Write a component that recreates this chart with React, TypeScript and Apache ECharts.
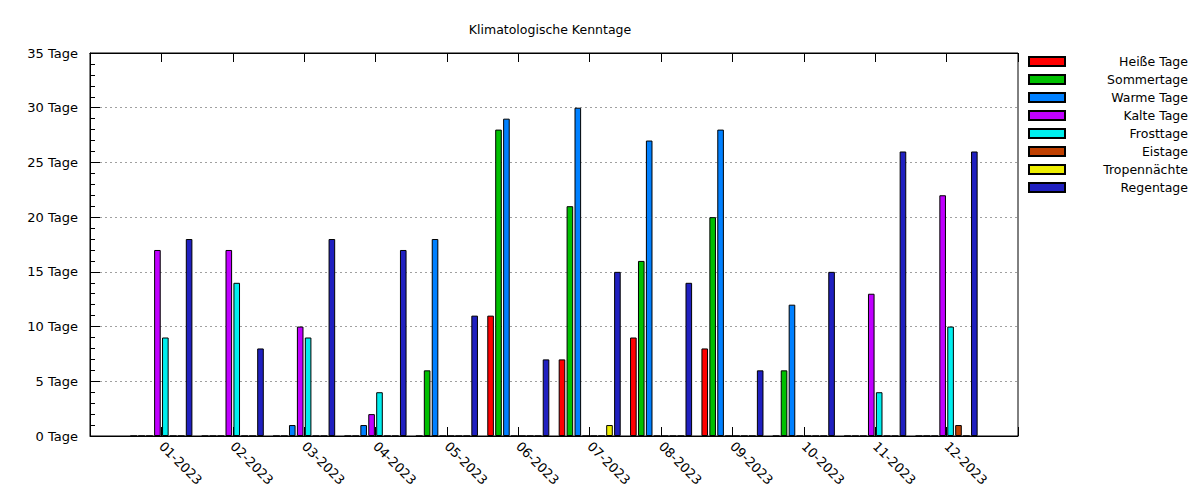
import React, { useEffect, useRef } from "react";
import * as echarts from "echarts";

const months = ["01-2023", "02-2023", "03-2023", "04-2023", "05-2023", "06-2023", "07-2023", "08-2023", "09-2023", "10-2023", "11-2023", "12-2023"];
const categories = ["", ...months, ""];

const heisseTage = [0, 0, 0, 0, 0, 11, 7, 9, 8, 0, 0, 0];
const sommertage = [0, 0, 0, 0, 6, 28, 21, 16, 20, 6, 0, 0];
const warmeTage = [0, 0, 1, 1, 18, 29, 30, 27, 28, 12, 0, 0];
const kalteTage = [17, 17, 10, 2, 0, 0, 0, 0, 0, 0, 13, 22];
const frosttage = [9, 14, 9, 4, 0, 0, 0, 0, 0, 0, 4, 10];
const eistage = [0, 0, 0, 0, 0, 0, 0, 0, 0, 0, 0, 1];
const tropennaechte = [0, 0, 0, 0, 0, 0, 1, 0, 0, 0, 0, 0];
const regentage = [18, 8, 18, 17, 11, 7, 15, 14, 6, 15, 26, 26];

const seriesDefs = [
  { name: "Heiße Tage", data: heisseTage, color: "#ff0000" },
  { name: "Sommertage", data: sommertage, color: "#00c000" },
  { name: "Warme Tage", data: warmeTage, color: "#0080ff" },
  { name: "Kalte Tage", data: kalteTage, color: "#c000ff" },
  { name: "Frosttage", data: frosttage, color: "#00eeee" },
  { name: "Eistage", data: eistage, color: "#c04000" },
  { name: "Tropennächte", data: tropennaechte, color: "#eeee00" },
  { name: "Regentage", data: regentage, color: "#2020c0" },
];

const FONT = "DejaVu Sans";

export default function App() {
  const ref = useRef<HTMLDivElement>(null);
  useEffect(() => {
    if (!ref.current) return;
    const chart = echarts.init(ref.current, undefined, { renderer: "svg" });
    chart.setOption({
      animation: false,
      backgroundColor: "#ffffff",
      textStyle: { fontFamily: FONT },
      title: {
        text: "Klimatologische Kenntage",
        left: 545,
        top: 18,
        textAlign: "center",
        textStyle: { fontFamily: FONT, fontSize: 12.5, fontWeight: "normal", color: "#000" },
      },
      legend: {
        orient: "vertical",
        left: 1028,
        top: 55,
        padding: 0,
        icon: "rect",
        itemWidth: 36,
        itemHeight: 9,
        itemGap: 5,
        selectedMode: false,
        formatter: (name: string) => `{a|${name}}`,
        textStyle: {
          fontFamily: FONT,
          rich: {
            a: { width: 118, align: "right", fontFamily: FONT, fontSize: 12.5, color: "#000", lineHeight: 14 },
          },
        },
      },
      grid: {
        left: 90,
        right: 182,
        top: 53,
        bottom: 64,
        show: true,
        borderColor: "#000",
        borderWidth: 1,
        backgroundColor: "transparent",
      },
      xAxis: [
        {
          type: "category",
          data: categories,
          boundaryGap: false,
          axisLine: { show: true, lineStyle: { color: "#000", width: 1 } },
          axisTick: { show: true, inside: true, length: 9, interval: 0, lineStyle: { color: "#000" } },
          axisLabel: {
            interval: 0,
            rotate: -45,
            margin: 8,
            fontFamily: FONT,
            fontSize: 13,
            color: "#000",
          },
          splitLine: { show: false },
        },
        {
          type: "category",
          data: categories,
          position: "top",
          boundaryGap: false,
          axisLine: { show: true, lineStyle: { color: "#000", width: 1 } },
          axisTick: { show: true, inside: true, length: 9, interval: 0, lineStyle: { color: "#000" } },
          axisLabel: { show: false },
          splitLine: { show: false },
        },
      ],
      yAxis: {
        type: "value",
        min: 0,
        max: 35,
        interval: 5,
        axisLine: { show: true, lineStyle: { color: "#000", width: 1 } },
        axisTick: { show: true, inside: true, length: 10, lineStyle: { color: "#000" } },
        minorTick: { show: true, splitNumber: 5, length: 5, lineStyle: { color: "#000" } },
        axisLabel: {
          formatter: "{value} Tage",
          margin: 12,
          fontFamily: FONT,
          fontSize: 13,
          color: "#000",
        },
        splitLine: { show: true, lineStyle: { color: "#a0a0a0", type: [2, 3], width: 1 } },
      },
      series: seriesDefs.map((s) => ({
        name: s.name,
        type: "bar",
        data: [null, ...s.data, null],
        barWidth: 6.6,
        barGap: "20%",
        itemStyle: { color: s.color, borderColor: "#000", borderWidth: 1 },
      })),
    });
    return () => chart.dispose();
  }, []);
  return <div ref={ref} style={{ width: 1200, height: 500, position: "absolute", left: 0, top: 0 }} />;
}
